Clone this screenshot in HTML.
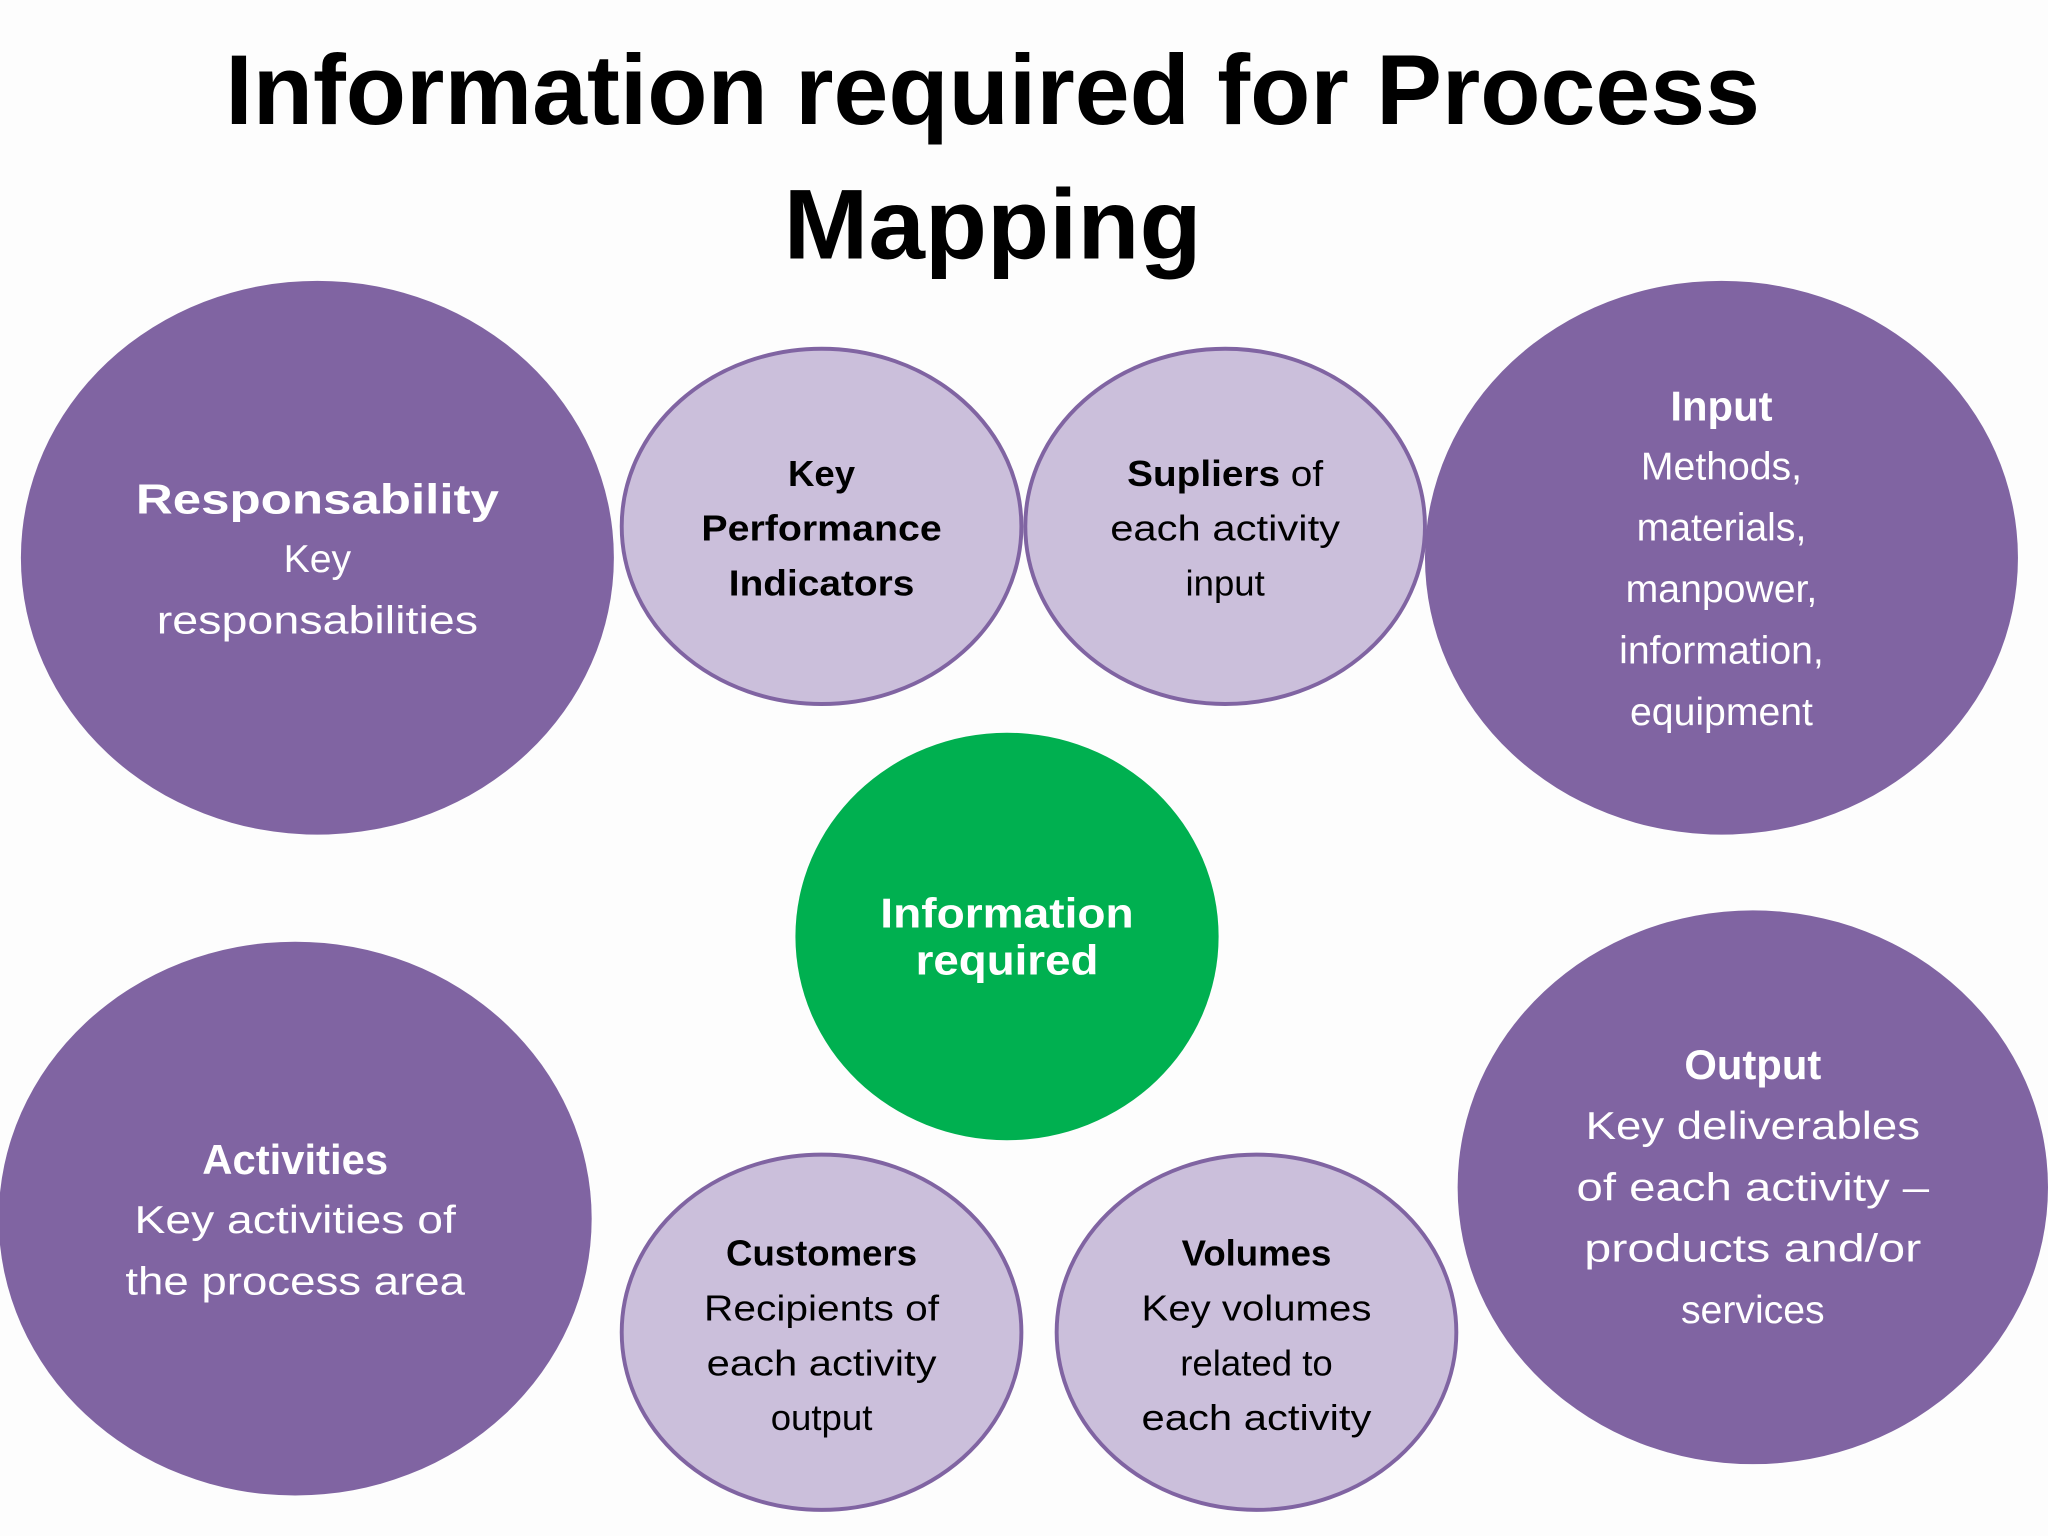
<!DOCTYPE html>
<html><head><meta charset="utf-8"><style>
html,body{margin:0;padding:0;background:#fdfdfd;}
svg{display:block;}
text{font-family:"Liberation Sans",sans-serif;text-anchor:middle;}
.t{font-weight:bold;fill:#000;}
.w{fill:#fff;font-size:30px;}
.wb{fill:#fff;font-size:32px;font-weight:bold;}
.d{fill:#000;font-size:28px;}
.db{fill:#000;font-size:28px;font-weight:bold;}
</style></head><body>
<svg width="2048" height="1536" viewBox="0 0 1568 1176" preserveAspectRatio="none">
<rect width="1568" height="1176" fill="#fdfdfd"/>
<text class="t" x="760" y="95" font-size="76" textLength="1175" lengthAdjust="spacingAndGlyphs">Information required for Process</text>
<text class="t" x="760" y="198" font-size="76" textLength="320" lengthAdjust="spacingAndGlyphs">Mapping</text>

<g fill="#8064a2">
<ellipse cx="243" cy="427" rx="227" ry="212"/>
<ellipse cx="1318" cy="427" rx="227" ry="212"/>
<ellipse cx="226" cy="933" rx="227" ry="212"/>
<ellipse cx="1342" cy="909" rx="226" ry="212"/>
</g>
<g fill="#cbbfdb" stroke="#8064a2" stroke-width="3">
<ellipse cx="629" cy="403" rx="153" ry="136"/>
<ellipse cx="938" cy="403" rx="153" ry="136"/>
<ellipse cx="629" cy="1020" rx="153" ry="136"/>
<ellipse cx="962" cy="1020" rx="153" ry="136"/>
</g>
<ellipse cx="771" cy="717" rx="162" ry="156" fill="#00b050"/>

<text class="wb" x="243" y="393" textLength="278" lengthAdjust="spacingAndGlyphs">Responsability</text>
<text class="w" x="243" y="438">Key</text>
<text class="w" x="243" y="485" textLength="246" lengthAdjust="spacingAndGlyphs">responsabilities</text>

<text class="db" x="629" y="372">Key</text>
<text class="db" x="629" y="414" textLength="184" lengthAdjust="spacingAndGlyphs">Performance</text>
<text class="db" x="629" y="456" textLength="142" lengthAdjust="spacingAndGlyphs">Indicators</text>

<text class="d" x="938" y="372" textLength="150" lengthAdjust="spacingAndGlyphs"><tspan font-weight="bold">Supliers</tspan> of</text>
<text class="d" x="938" y="414" textLength="176" lengthAdjust="spacingAndGlyphs">each activity</text>
<text class="d" x="938" y="456">input</text>

<text class="wb" x="1318" y="322">Input</text>
<text class="w" x="1318" y="367">Methods,</text>
<text class="w" x="1318" y="414">materials,</text>
<text class="w" x="1318" y="461">manpower,</text>
<text class="w" x="1318" y="508">information,</text>
<text class="w" x="1318" y="555">equipment</text>

<text class="wb" x="771" y="710" textLength="194" lengthAdjust="spacingAndGlyphs">Information</text>
<text class="wb" x="771" y="746" textLength="140" lengthAdjust="spacingAndGlyphs">required</text>

<text class="wb" x="226" y="899">Activities</text>
<text class="w" x="226" y="944" textLength="246" lengthAdjust="spacingAndGlyphs">Key activities of</text>
<text class="w" x="226" y="991" textLength="260" lengthAdjust="spacingAndGlyphs">the process area</text>

<text class="db" x="629" y="969">Customers</text>
<text class="d" x="629" y="1011" textLength="180" lengthAdjust="spacingAndGlyphs">Recipients of</text>
<text class="d" x="629" y="1053" textLength="176" lengthAdjust="spacingAndGlyphs">each activity</text>
<text class="d" x="629" y="1095">output</text>

<text class="db" x="962" y="969">Volumes</text>
<text class="d" x="962" y="1011" textLength="176" lengthAdjust="spacingAndGlyphs">Key volumes</text>
<text class="d" x="962" y="1053">related to</text>
<text class="d" x="962" y="1095" textLength="176" lengthAdjust="spacingAndGlyphs">each activity</text>

<text class="wb" x="1342" y="826">Output</text>
<text class="w" x="1342" y="872" textLength="256" lengthAdjust="spacingAndGlyphs">Key deliverables</text>
<text class="w" x="1342" y="919" textLength="270" lengthAdjust="spacingAndGlyphs">of each activity –</text>
<text class="w" x="1342" y="966" textLength="258" lengthAdjust="spacingAndGlyphs">products and/or</text>
<text class="w" x="1342" y="1013">services</text>
</svg>
</body></html>
